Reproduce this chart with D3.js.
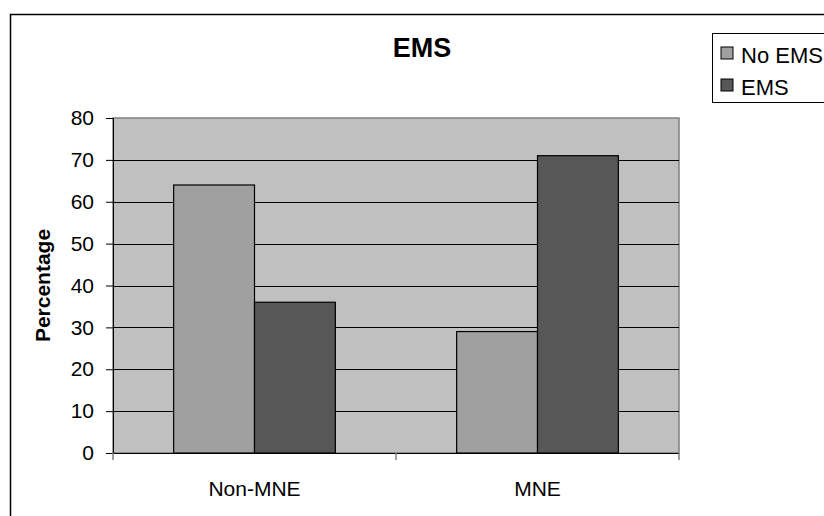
<!DOCTYPE html>
<html>
<head>
<meta charset="utf-8">
<script src="https://cdn.jsdelivr.net/npm/d3@7"></script>
<style>
  body { margin: 0; background: #fff; overflow: hidden; }
  svg { display: block; font-family: "Liberation Sans", Arial, sans-serif; }
</style>
</head>
<body>
<div id="chart"></div>
<script>
const categories = ["Non-MNE", "MNE"];
const seriesNames = ["No EMS", "EMS"];
const noEms = [64, 29];
const ems = [36, 71];
const yTicks = [0, 10, 20, 30, 40, 50, 60, 70, 80];
const colors = ["#a0a0a0", "#575757"];

const width = 824, height = 516;
const plot = { left: 113, right: 679, top: 118, bottom: 453 };

const rows = categories.map((c, i) => ({ category: c, values: [noEms[i], ems[i]] }));

const svg = d3.select("#chart")
  .append("svg")
  .attr("width", width)
  .attr("height", height);

// outer chart frame, runs off right/bottom edge like the original
svg.append("rect")
  .attr("x", 10.5).attr("y", 14.5)
  .attr("width", 900).attr("height", 600)
  .attr("fill", "#fff")
  .attr("stroke", "#000")
  .attr("stroke-width", 1.5);

const x0 = d3.scaleBand().domain(categories).range([plot.left, plot.right]);
const x1 = d3.scaleBand().domain(seriesNames).range([0, x0.bandwidth()])
  .paddingInner(0).paddingOuter(0.75);  // excel-ish gap width 150%
const y = d3.scaleLinear().domain([0, 80]).range([plot.bottom, plot.top]);

// plot area
svg.append("rect")
  .attr("x", plot.left).attr("y", plot.top)
  .attr("width", plot.right - plot.left).attr("height", plot.bottom - plot.top)
  .attr("fill", "#c0c0c0")
  .attr("stroke", "#808080")
  .attr("stroke-width", 1.5);

// gridlines
svg.append("g")
  .selectAll("line")
  .data(yTicks.filter(d => d > 0 && d < 80))
  .join("line")
  .attr("x1", plot.left).attr("x2", plot.right)
  .attr("y1", d => Math.round(y(d)) + 0.5).attr("y2", d => Math.round(y(d)) + 0.5)
  .attr("stroke", "#000");

// bars
svg.append("g")
  .selectAll("g")
  .data(rows)
  .join("g")
  .attr("transform", d => `translate(${x0(d.category)},0)`)
  .selectAll("rect")
  .data(d => d.values.map((v, i) => ({ key: seriesNames[i], value: v, i })))
  .join("rect")
  .attr("x", d => x1(d.key))
  .attr("y", d => y(d.value))
  .attr("width", x1.bandwidth())
  .attr("height", d => y(0) - y(d.value))
  .attr("fill", d => colors[d.i])
  .attr("stroke", "#000")
  .attr("stroke-width", 1.2);

// y axis
const yAxis = svg.append("g")
  .attr("transform", `translate(${plot.left},0)`)
  .call(d3.axisLeft(y).tickValues(yTicks).tickSize(7).tickPadding(12));
yAxis.select(".domain").attr("stroke", "#000");
yAxis.selectAll(".tick line").attr("stroke", "#000");
yAxis.selectAll("text").attr("font-size", 21).attr("fill", "#000")
  .attr("font-family", "Liberation Sans, Arial, sans-serif");

// x axis
const xAxis = svg.append("g")
  .attr("transform", `translate(0,${plot.bottom})`)
  .call(d3.axisBottom(x0).tickSize(0).tickPadding(28));
xAxis.select(".domain").attr("stroke", "#000");
xAxis.selectAll("text").attr("font-size", 21).attr("fill", "#000")
  .attr("font-family", "Liberation Sans, Arial, sans-serif");

// category boundary ticks
svg.append("g")
  .selectAll("line")
  .data([...categories.map(c => x0(c)), plot.right])
  .join("line")
  .attr("x1", d => d).attr("x2", d => d)
  .attr("y1", plot.bottom).attr("y2", plot.bottom + 7)
  .attr("stroke", "#808080")
  .attr("stroke-width", 1.5);

// title
svg.append("text")
  .attr("x", 422).attr("y", 57)
  .attr("text-anchor", "middle")
  .attr("font-size", 27)
  .attr("font-weight", "bold")
  .text("EMS");

// y label
svg.append("text")
  .attr("transform", `translate(50,${(plot.top + plot.bottom) / 2}) rotate(-90)`)
  .attr("text-anchor", "middle")
  .attr("font-size", 21)
  .attr("font-weight", "bold")
  .text("Percentage");

// legend
const legend = svg.append("g");
legend.append("rect")
  .attr("x", 712.5).attr("y", 33.5)
  .attr("width", 150).attr("height", 69)
  .attr("fill", "#fff")
  .attr("stroke", "#000");
const items = legend.selectAll("g")
  .data(seriesNames)
  .join("g")
  .attr("transform", (d, i) => `translate(721,${47 + i * 32})`);
items.append("rect")
  .attr("width", 12).attr("height", 12)
  .attr("fill", (d, i) => colors[i])
  .attr("stroke", "#000");
items.append("text")
  .attr("x", 20).attr("y", 16)
  .attr("font-size", 22)
  .text(d => d);
</script>
</body>
</html>
